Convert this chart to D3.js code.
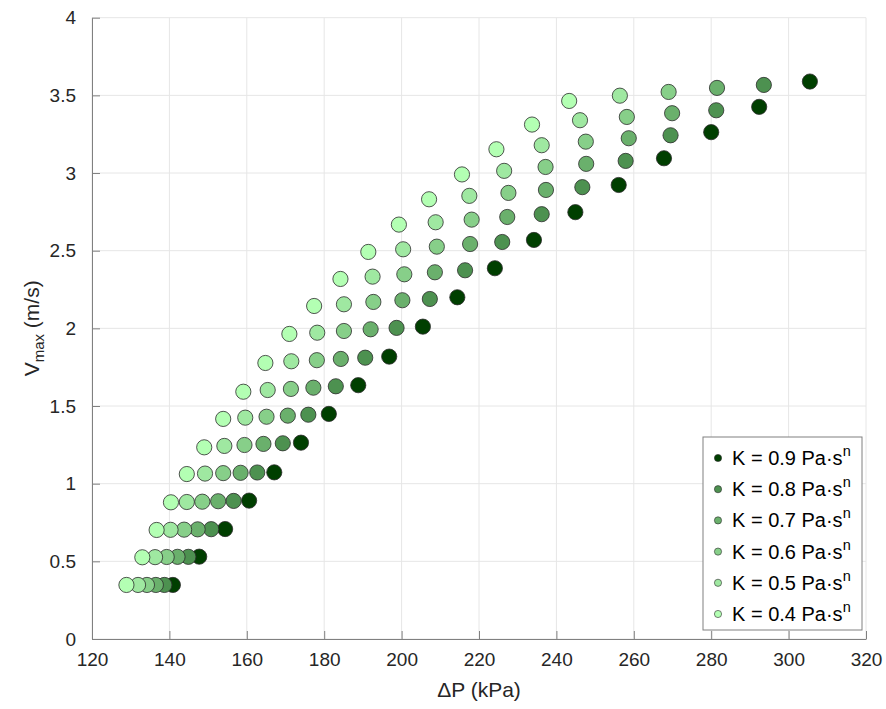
<!DOCTYPE html>
<html>
<head>
<meta charset="utf-8">
<script src="https://cdn.jsdelivr.net/npm/d3@7"></script>
<style>
  html, body { margin: 0; padding: 0; background: #fff; }
  svg { display: block; font-family: "Liberation Sans", Arial, Helvetica, sans-serif; }
</style>
</head>
<body>
<svg id="chart" width="886" height="709"></svg>
<script>
// ---- Data ----
const kValues = [0.9, 0.8, 0.7, 0.6, 0.5, 0.4];
const seriesColors = ["#003f00", "#4d9150", "#6ab06c", "#87cf89", "#9fe8a1", "#b3ffb3"];

const dpK09 = [140.9,147.7,154.4,160.6,167.1,174.0,181.2,188.8,196.8,205.5,214.4,224.1,234.2,244.9,256.1,267.8,280.0,292.4,305.5];
const vK09  = [0.348,0.530,0.708,0.891,1.073,1.264,1.449,1.634,1.818,2.011,2.200,2.387,2.569,2.748,2.923,3.095,3.263,3.426,3.589];

const dpK08 = [138.7,144.9,150.8,156.6,162.7,169.3,175.9,183.0,190.6,198.7,207.3,216.4,226.0,236.2,246.7,257.9,269.5,281.3,293.6];
const vK08  = [0.348,0.529,0.707,0.889,1.072,1.260,1.444,1.627,1.811,2.003,2.189,2.374,2.556,2.735,2.909,3.078,3.243,3.404,3.567];

const dpK07 = [136.5,142.1,147.3,152.6,158.4,164.3,170.6,177.2,184.3,192.0,200.2,208.6,217.7,227.3,237.3,247.7,258.7,269.9,281.5];
const vK07  = [0.348,0.529,0.706,0.887,1.070,1.256,1.438,1.618,1.803,1.994,2.181,2.361,2.543,2.717,2.891,3.059,3.224,3.385,3.548];

const dpK06 = [134.2,139.3,143.8,148.5,153.9,159.4,165.1,171.4,178.1,185.1,192.7,200.7,209.1,218.1,227.6,237.2,247.6,258.2,269.0];
const vK06  = [0.348,0.528,0.704,0.884,1.068,1.249,1.431,1.610,1.795,1.983,2.170,2.348,2.526,2.700,2.872,3.039,3.202,3.361,3.522];

const dpK05 = [131.9,136.3,140.3,144.5,149.2,154.2,159.6,165.4,171.5,178.2,185.1,192.5,200.4,208.8,217.5,226.5,236.2,246.1,256.4];
const vK05  = [0.348,0.527,0.703,0.882,1.065,1.243,1.425,1.603,1.788,1.972,2.155,2.333,2.509,2.683,2.853,3.014,3.179,3.340,3.498];

const dpK04 = [128.9,133.0,136.7,140.4,144.5,149.0,153.9,159.1,164.8,171.0,177.4,184.2,191.4,199.3,207.1,215.6,224.5,233.7,243.3];
const vK04  = [0.348,0.526,0.702,0.880,1.062,1.234,1.417,1.592,1.777,1.964,2.144,2.318,2.492,2.668,2.831,2.991,3.153,3.312,3.464];

const xTicks = [120,140,160,180,200,220,240,260,280,300,320];
const yTicks = [0,0.5,1,1.5,2,2.5,3,3.5,4];
const yTickLabels = ["0","0.5","1","1.5","2","2.5","3","3.5","4"];

const seriesDP = [dpK09, dpK08, dpK07, dpK06, dpK05, dpK04];
const seriesV  = [vK09, vK08, vK07, vK06, vK05, vK04];

// ---- Layout ----
const svg = d3.select("#chart");
const pLeft = 92, pRight = 866, pTop = 17.7, pBottom = 639;

const x = d3.scaleLinear().domain([120, 320]).range([pLeft, pRight]);
const y = d3.scaleLinear().domain([0, 4]).range([pBottom, pTop]);

// gridlines
const grid = svg.append("g");
grid.selectAll("line.gx").data(xTicks).join("line")
  .attr("x1", d => x(d)).attr("x2", d => x(d))
  .attr("y1", pTop).attr("y2", pBottom)
  .attr("stroke", "#e6e6e6").attr("stroke-width", 1);
grid.selectAll("line.gy").data(yTicks).join("line")
  .attr("x1", pLeft).attr("x2", pRight)
  .attr("y1", d => y(d)).attr("y2", d => y(d))
  .attr("stroke", "#e6e6e6").attr("stroke-width", 1);

// axes (ticks inward)
const axisColor = "#808080";
const xAxis = svg.append("g").attr("transform", `translate(0,${pBottom})`)
  .call(d3.axisBottom(x).tickValues(xTicks).tickSizeInner(-8).tickSizeOuter(0).tickPadding(15));
const yAxis = svg.append("g").attr("transform", `translate(${pLeft},0)`)
  .call(d3.axisLeft(y).tickValues(yTicks).tickFormat((d,i) => yTickLabels[i]).tickSizeInner(-8).tickSizeOuter(0).tickPadding(16));
[xAxis, yAxis].forEach(a => {
  a.select(".domain").attr("stroke", axisColor).attr("stroke-width", 1);
  a.selectAll(".tick line").attr("stroke", axisColor);
  a.selectAll(".tick text").attr("fill", "#262626").attr("font-size", 19)
    .attr("font-family", "'Liberation Sans', Arial, sans-serif");
});
xAxis.selectAll(".tick text").attr("dy", "0.62em");

// axis labels
svg.append("text").attr("x", (pLeft + pRight) / 2).attr("y", 697)
  .attr("text-anchor", "middle").attr("font-size", 21).attr("fill", "#262626")
  .text("ΔP (kPa)");
const yl = svg.append("text").attr("transform", `translate(39,${(pTop + pBottom) / 2}) rotate(-90)`)
  .attr("text-anchor", "middle").attr("font-size", 21).attr("fill", "#262626");
yl.append("tspan").text("V");
yl.append("tspan").attr("font-size", 15).attr("dy", 5).text("max");
yl.append("tspan").attr("dy", -5).text(" (m/s)");

// points: dark series first, lighter drawn on top
const pts = svg.append("g");
seriesDP.forEach((dps, si) => {
  const data = dps.map((d, i) => ({ dp: d, v: seriesV[si][i] }));
  pts.append("g").selectAll("circle").data(data).join("circle")
    .attr("cx", d => x(d.dp)).attr("cy", d => y(d.v))
    .attr("r", 7.6)
    .attr("fill", seriesColors[si])
    .attr("stroke", "#2b2b2b").attr("stroke-width", 0.8);
});

// legend
const lg = svg.append("g");
const lx = 703, ly = 437, lw = 159, lh = 193;
lg.append("rect").attr("x", lx).attr("y", ly).attr("width", lw).attr("height", lh)
  .attr("fill", "#fff").attr("stroke", "#808080").attr("stroke-width", 1);
kValues.forEach((k, i) => {
  const cy = ly + 21 + i * 31.2;
  lg.append("circle").attr("cx", lx + 15).attr("cy", cy).attr("r", 3.6)
    .attr("fill", seriesColors[i]).attr("stroke", "#2b2b2b").attr("stroke-width", 0.6);
  const t = lg.append("text").attr("x", lx + 29).attr("y", cy + 7)
    .attr("font-size", 20).attr("fill", "#000");
  t.append("tspan").text(`K = ${k.toFixed(1)} Pa·s`);
  t.append("tspan").attr("font-size", 14.5).attr("dy", -9).text("n");
});
</script>
</body>
</html>
